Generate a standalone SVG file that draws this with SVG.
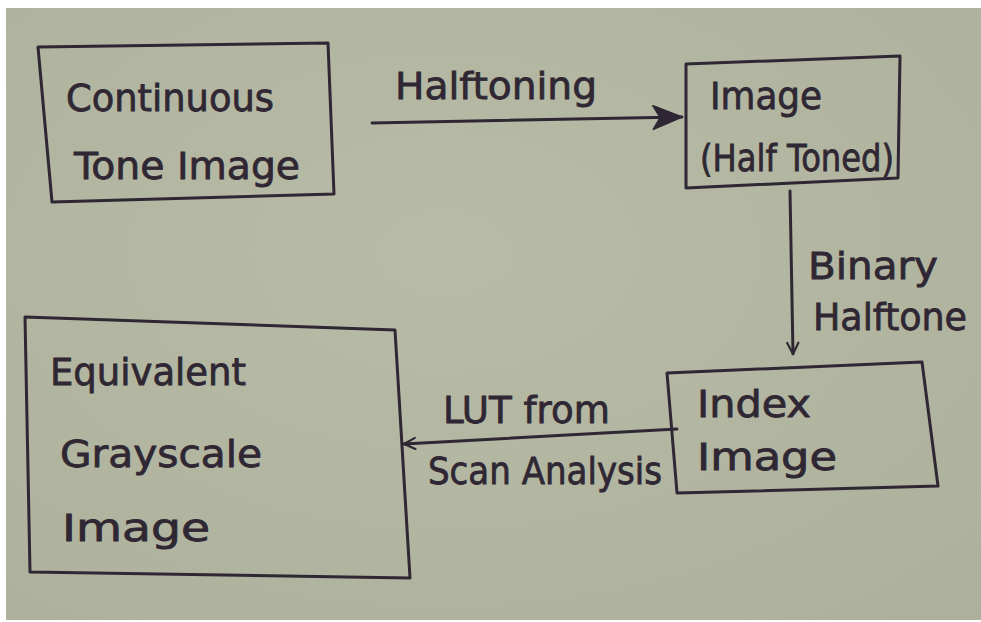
<svg xmlns="http://www.w3.org/2000/svg" width="981" height="622" viewBox="0 0 981 622">
  <defs>
    <radialGradient id="paper" cx="0.45" cy="0.4" r="0.8">
      <stop offset="0" stop-color="#b8bca6"/>
      <stop offset="1" stop-color="#adb09b"/>
    </radialGradient>
    <marker id="head" viewBox="0 0 20 20" refX="18" refY="10" markerWidth="14" markerHeight="14" markerUnits="userSpaceOnUse" orient="auto">
      <path d="M2,2 L18,10 L2,18" fill="none" stroke="#2f2733" stroke-width="3" stroke-linejoin="round" stroke-linecap="round"/>
    </marker>
    <marker id="headBig" viewBox="0 0 40 30" refX="38" refY="15" markerWidth="36" markerHeight="27" markerUnits="userSpaceOnUse" orient="auto">
      <path d="M6,2 L38,15 L6,28 L14,15 Z" fill="#2f2733" stroke="#2f2733" stroke-width="2" stroke-linejoin="round"/>
    </marker>
    <style>
      .box { fill: none; stroke: #2f2733; stroke-width: 3; stroke-linejoin: round; }
      .wire { fill: none; stroke: #2f2733; stroke-width: 3; stroke-linecap: round; }
      .ink { font-family: "DejaVu Sans", "Open Sans", sans-serif; fill: #2f2733; stroke: #2f2733; stroke-width: 0.8; font-size: 38px; }
    </style>
  </defs>

  <!-- sheet with thin white margin -->
  <rect width="981" height="622" fill="#ffffff"/>
  <rect x="6" y="8" width="975" height="612" fill="url(#paper)"/>

  <g id="continuous-tone">
    <path class="box" d="M38,47 L328,43 L334,194 L52,202 Z"/>
    <text class="ink" x="66" y="111" font-size="38" textLength="208" lengthAdjust="spacingAndGlyphs">Continuous</text>
    <text class="ink" x="74" y="179" font-size="39" textLength="226" lengthAdjust="spacingAndGlyphs">Tone Image</text>
  </g>

  <g id="halftoned">
    <path class="box" d="M686,64 L900,56 L898,178 L686,188 Z"/>
    <text class="ink" x="710" y="109" font-size="36" textLength="112" lengthAdjust="spacingAndGlyphs">Image</text>
    <text class="ink" x="700" y="171" font-size="32" textLength="194" lengthAdjust="spacingAndGlyphs">(Half Toned)</text>
  </g>

  <g id="index-image">
    <path class="box" d="M667,373 L922,362 L938,486 L677,493 Z"/>
    <text class="ink" x="697" y="417" font-size="40" textLength="114" lengthAdjust="spacingAndGlyphs">Index</text>
    <text class="ink" x="697" y="470" font-size="43" textLength="140" lengthAdjust="spacingAndGlyphs">Image</text>
  </g>

  <g id="grayscale">
    <path class="box" d="M25,317 L395,330 L410,578 L30,572 Z"/>
    <text class="ink" x="50" y="385" font-size="38" textLength="196" lengthAdjust="spacingAndGlyphs">Equivalent</text>
    <text class="ink" x="60" y="467" font-size="40" textLength="202" lengthAdjust="spacingAndGlyphs">Grayscale</text>
    <text class="ink" x="62" y="541" font-size="44" textLength="148" lengthAdjust="spacingAndGlyphs">Image</text>
  </g>

  <g id="connectors">
    <line class="wire" x1="372" y1="123" x2="682" y2="117" marker-end="url(#headBig)"/>
    <line class="wire" x1="790" y1="191" x2="793" y2="354" marker-end="url(#head)"/>
    <line class="wire" x1="677" y1="429" x2="404" y2="444" marker-end="url(#head)"/>
  </g>

  <g id="connector-labels">
    <text class="ink" x="395" y="99" font-size="39" textLength="202" lengthAdjust="spacingAndGlyphs">Halftoning</text>
    <text class="ink" x="808" y="279" font-size="40" textLength="130" lengthAdjust="spacingAndGlyphs">Binary</text>
    <text class="ink" x="813" y="330" font-size="36" textLength="154" lengthAdjust="spacingAndGlyphs">Halftone</text>
    <text class="ink" x="443" y="423" font-size="36" textLength="167" lengthAdjust="spacingAndGlyphs">LUT from</text>
    <text class="ink" x="428" y="484" font-size="34" textLength="234" lengthAdjust="spacingAndGlyphs">Scan Analysis</text>
  </g>
</svg>
